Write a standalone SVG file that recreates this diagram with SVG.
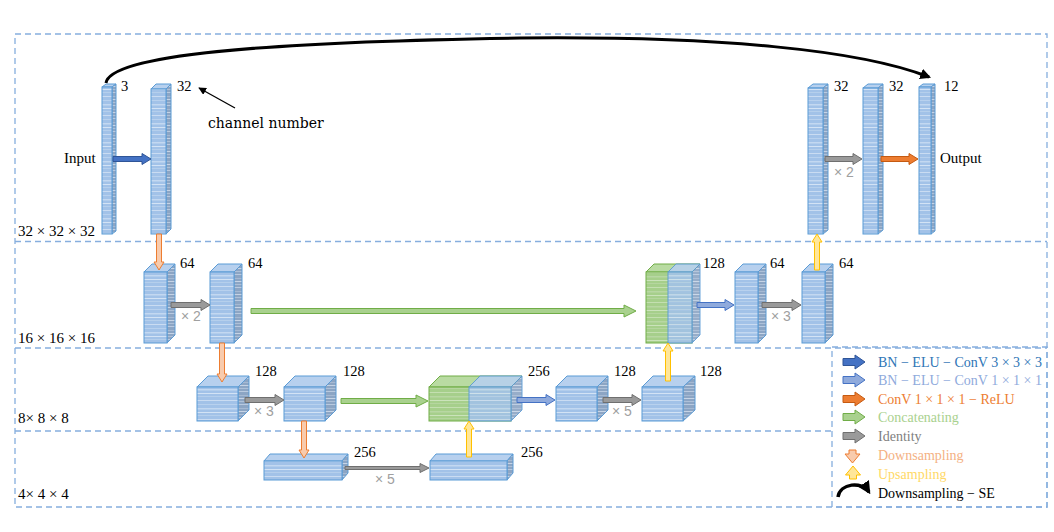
<svg xmlns="http://www.w3.org/2000/svg" width="1054" height="532" viewBox="0 0 1054 532">
<defs>
<pattern id="pf" width="20" height="19" patternUnits="userSpaceOnUse">
<rect width="20" height="19" fill="#a2c2e8"/>
<rect y="1" width="20" height="1" fill="#cadcf2"/>
<rect y="5" width="20" height="1" fill="#b8d1ee"/>
<rect y="9" width="20" height="1.5" fill="#c3d8f1"/>
<rect y="13" width="20" height="1" fill="#d3e3f5"/>
<rect y="16" width="20" height="1" fill="#b5cfec"/>
</pattern>
<pattern id="ps" width="20" height="13" patternUnits="userSpaceOnUse">
<rect width="20" height="13" fill="#8ca5c4"/>
<rect y="1" width="20" height="1" fill="#b9cae0"/>
<rect y="5" width="20" height="1" fill="#a5b9d3"/>
<rect y="8" width="20" height="1" fill="#c6d4e6"/>
<rect y="11" width="20" height="1" fill="#adc0d8"/>
</pattern>
<pattern id="pg" width="20" height="15" patternUnits="userSpaceOnUse">
<rect width="20" height="15" fill="#a6cf8b"/>
<rect y="2" width="20" height="1" fill="#c4dfb1"/>
<rect y="6" width="20" height="1.5" fill="#b8d7a3"/>
<rect y="10" width="20" height="1" fill="#cbe3bb"/>
<rect y="13" width="20" height="1" fill="#b5d69f"/>
</pattern>
<marker id="ah" viewBox="0 0 10 10" refX="9" refY="5" markerWidth="6" markerHeight="6" orient="auto-start-reverse">
<path d="M0,0 L10,5 L0,10 z" fill="#000"/>
</marker>
<marker id="ahb" viewBox="0 0 10 10" refX="8" refY="5" markerWidth="3.6" markerHeight="3.6" orient="auto">
<path d="M0,0 L10,5 L0,10 z" fill="#000"/>
</marker>
</defs>
<style>
.dash{fill:none;stroke:#86aede;stroke-width:1.3;stroke-dasharray:6,4}
.f{fill:url(#pf);stroke:#5b9bd5;stroke-width:1}
.t{fill:#b7d0ee;stroke:#5b9bd5;stroke-width:1}
.s{fill:url(#ps);stroke:#5b9bd5;stroke-width:1}
.gf{fill:url(#pg);stroke:#70ad47;stroke-width:1}
.gt{fill:#b9dba2;stroke:#70ad47;stroke-width:1}
.ov{opacity:.9}
.num{font-family:"Liberation Serif","DejaVu Serif",serif;font-size:14.5px;fill:#000}
.lbl{font-family:"Liberation Serif","DejaVu Serif",serif;font-size:15px;fill:#000}
.rep{font-family:"Liberation Sans",Arial,sans-serif;font-size:14px;fill:#a0a0a0}
.leg{font-family:"Liberation Serif","DejaVu Serif",serif;font-size:14px}
.a-db{fill:#4472c4;stroke:#2f5597;stroke-width:1}
.a-lb{fill:#8faadc;stroke:#4472c4;stroke-width:1}
.a-or{fill:#ed7d31;stroke:#c55a11;stroke-width:1}
.a-gr{fill:#a9d18e;stroke:#70ad47;stroke-width:1}
.a-gy{fill:#9a9a9a;stroke:#6f6f6f;stroke-width:1}
.a-dn{fill:#f8cbad;stroke:#ed7d31;stroke-width:1}
.a-up{fill:#ffe699;stroke:#ffc000;stroke-width:1}
</style>
<rect width="1054" height="532" fill="#fff"/>

<g id="frame">
<rect class="dash" x="15" y="34" width="1032" height="473"/>
<line class="dash" x1="15" y1="241.5" x2="1047" y2="241.5"/>
<line class="dash" x1="15" y1="348" x2="1047" y2="348"/>
<line class="dash" x1="15" y1="431" x2="832" y2="431"/>
<text class="lbl" x="18" y="236">32 × 32 × 32</text>
<text class="lbl" x="18" y="343">16 × 16 × 16</text>
<text class="lbl" x="18" y="423">8× 8 × 8</text>
<text class="lbl" x="18" y="499">4× 4 × 4</text>
</g>

<g id="nodeA">
<polygon class="t" points="102,87 106,84 116,84 112,87"/>
<polygon class="s" points="112,87 116,84 116,231 112,234"/>
<rect class="f" x="102" y="87" width="10" height="147"/>
<text class="num" x="121" y="91">3</text>
<text class="lbl" x="64" y="163">Input</text>
</g>
<g id="nodeB">
<polygon class="t" points="151,89 156,84 171,84 166,89"/>
<polygon class="s" points="166,89 171,84 171,229 166,234"/>
<rect class="f" x="151" y="89" width="15" height="145"/>
<text class="num" x="177" y="91">32</text>
</g>
<g id="nodeC">
<polygon class="t" points="808,88 813,84 828,84 823,88"/>
<polygon class="s" points="823,88 828,84 828,230 823,234"/>
<rect class="f" x="808" y="88" width="15" height="146"/>
<text class="num" x="834" y="91">32</text>
</g>
<g id="nodeD">
<polygon class="t" points="863,88 868,84 883,84 878,88"/>
<polygon class="s" points="878,88 883,84 883,230 878,234"/>
<rect class="f" x="863" y="88" width="15" height="146"/>
<text class="num" x="889" y="91">32</text>
</g>
<g id="nodeE">
<polygon class="t" points="919,87 923,84 935,84 931,87"/>
<polygon class="s" points="931,87 935,84 935,231 931,234"/>
<rect class="f" x="919" y="87" width="12" height="147"/>
<text class="num" x="944" y="91">12</text>
<text class="lbl" x="940" y="163">Output</text>
</g>

<g id="nodeF">
<polygon class="t" points="144,272 152,264 175,264 167,272"/>
<polygon class="s" points="167,272 175,264 175,335 167,343"/>
<rect class="f" x="144" y="272" width="23" height="71"/>
<text class="num" x="180" y="268">64</text>
</g>
<g id="nodeG">
<polygon class="t" points="210,272 218,264 242,264 234,272"/>
<polygon class="s" points="234,272 242,264 242,335 234,343"/>
<rect class="f" x="210" y="272" width="24" height="71"/>
<text class="num" x="248" y="268">64</text>
</g>
<g id="nodeConcat1">
<polygon class="gt" points="646,272 654,264 700,264 692,272"/>
<rect class="gf" x="646" y="272" width="46" height="71"/>
<g class="ov">
<polygon class="t" points="668,272 676,264 700,264 692,272"/>
<polygon class="s" points="692,272 700,264 700,335 692,343"/>
<rect class="f" x="668" y="272" width="24" height="71"/>
</g>
<text class="num" x="703" y="268">128</text>
</g>
<g id="nodeH">
<polygon class="t" points="735,272 743,264 766,264 758,272"/>
<polygon class="s" points="758,272 766,264 766,335 758,343"/>
<rect class="f" x="735" y="272" width="23" height="71"/>
<text class="num" x="770" y="268">64</text>
</g>
<g id="nodeI">
<polygon class="t" points="802,272 810,264 833,264 825,272"/>
<polygon class="s" points="825,272 833,264 833,335 825,343"/>
<rect class="f" x="802" y="272" width="23" height="71"/>
<text class="num" x="839" y="268">64</text>
</g>

<g id="nodeJ">
<polygon class="t" points="197,387 208,376 249,376 238,387"/>
<polygon class="s" points="238,387 249,376 249,410 238,421"/>
<rect class="f" x="197" y="387" width="41" height="34"/>
<text class="num" x="255" y="376">128</text>
</g>
<g id="nodeK">
<polygon class="t" points="284,387 295,376 336,376 325,387"/>
<polygon class="s" points="325,387 336,376 336,410 325,421"/>
<rect class="f" x="284" y="387" width="41" height="34"/>
<text class="num" x="343" y="376">128</text>
</g>
<g id="nodeConcat2">
<polygon class="gt" points="429,387 440,376 522,376 511,387"/>
<rect class="gf" x="429" y="387" width="82" height="34"/>
<g class="ov">
<polygon class="t" points="469,387 480,376 522,376 511,387"/>
<polygon class="s" points="511,387 522,376 522,410 511,421"/>
<rect class="f" x="469" y="387" width="42" height="34"/>
</g>
<text class="num" x="528" y="376">256</text>
</g>
<g id="nodeL">
<polygon class="t" points="556,387 567,376 608,376 597,387"/>
<polygon class="s" points="597,387 608,376 608,410 597,421"/>
<rect class="f" x="556" y="387" width="41" height="34"/>
<text class="num" x="614" y="376">128</text>
</g>
<g id="nodeM">
<polygon class="t" points="642,387 653,376 695,376 683,387"/>
<polygon class="s" points="683,387 695,376 695,410 683,421"/>
<rect class="f" x="642" y="387" width="41" height="34"/>
<text class="num" x="700" y="376">128</text>
</g>

<g id="nodeN">
<polygon class="t" points="264,461 270,454 348,454 342,461"/>
<polygon class="s" points="342,461 348,454 348,473 342,480"/>
<rect class="f" x="264" y="461" width="78" height="19"/>
<text class="num" x="354" y="457">256</text>
</g>
<g id="nodeO">
<polygon class="t" points="430,461 436,454 513,454 507,461"/>
<polygon class="s" points="507,461 513,454 513,473 507,480"/>
<rect class="f" x="430" y="461" width="77" height="19"/>
<text class="num" x="521" y="457">256</text>
</g>

<g id="connectors">
<path d="M106,83 C110,55 260,42 520,38 C720,36 860,50 929,77" fill="none" stroke="#000" stroke-width="3" marker-end="url(#ahb)"/>
<line x1="235" y1="108" x2="199" y2="88" stroke="#000" stroke-width="1.3" marker-end="url(#ah)"/>
<polygon class="a-db" points="113,156.5 142,156.5 142,153.5 151,159 142,164.5 142,161.5 113,161.5"/>
<polygon class="a-gy" points="825,156.5 853,156.5 853,153.5 862,159 853,164.5 853,161.5 825,161.5"/>
<polygon class="a-or" points="881,156.5 909,156.5 909,153.5 918,159 909,164.5 909,161.5 881,161.5"/>
<polygon class="a-dn" points="156.5,234 161.5,234 161.5,262 164,262 159,270 154,262 156.5,262"/>
<polygon class="a-gy" points="171,302.5 201,302.5 201,299.5 210,305 201,310.5 201,307.5 171,307.5"/>
<polygon class="a-gr" points="251,308.5 624,308.5 624,305 636,311 624,317 624,313.5 251,313.5"/>
<polygon class="a-lb" points="697,302.5 725,302.5 725,299.5 734,305 725,310.5 725,307.5 697,307.5"/>
<polygon class="a-gy" points="762,302.5 792,302.5 792,299.5 801,305 792,310.5 792,307.5 762,307.5"/>
<polygon class="a-up" points="814.5,270 819.5,270 819.5,242 822,242 817,234 812,242 814.5,242"/>
<polygon class="a-dn" points="219.5,343 224.5,343 224.5,374 227,374 222,382 217,374 219.5,374"/>
<polygon class="a-gy" points="245,397.5 275,397.5 275,394.5 284,400 275,405.5 275,402.5 245,402.5"/>
<polygon class="a-gr" points="341,398.5 416,398.5 416,395 428,401 416,407 416,403.5 341,403.5"/>
<polygon class="a-lb" points="517,397.5 546,397.5 546,394.5 555,400 546,405.5 546,402.5 517,402.5"/>
<polygon class="a-gy" points="603,397.5 632,397.5 632,394.5 641,400 632,405.5 632,402.5 603,402.5"/>
<polygon class="a-up" points="665.5,381 670.5,381 670.5,351 673,351 668,343 663,351 665.5,351"/>
<polygon class="a-dn" points="301.5,421 306.5,421 306.5,450 309,450 304,458 299,450 301.5,450"/>
<polygon class="a-gy" points="345,466.5 420,466.5 420,463.5 429,468 420,472.5 420,469.5 345,469.5"/>
<polygon class="a-up" points="466.5,457 471.5,457 471.5,429 474,429 469,421 464,429 466.5,429"/>
<text class="rep" x="834" y="177">× 2</text>
<text class="rep" x="181" y="321">× 2</text>
<text class="rep" x="771" y="321">× 3</text>
<text class="rep" x="254" y="416">× 3</text>
<text class="rep" x="612" y="416">× 5</text>
<text class="rep" x="375" y="484">× 5</text>
<text class="lbl" x="208" y="128" style="font-family:'DejaVu Serif',serif;font-size:14px">channel number</text>
</g>

<g id="legend">
<rect class="dash" x="832" y="347" width="215" height="160"/>
<polygon class="a-db" points="843,358.5 855,358.5 855,355 865,362 855,369 855,365.5 843,365.5"/>
<polygon class="a-lb" points="843,376.5 855,376.5 855,373 865,380 855,387 855,383.5 843,383.5"/>
<polygon class="a-or" points="843,395.5 855,395.5 855,392 865,399 855,406 855,402.5 843,402.5"/>
<polygon class="a-gr" points="843,413.5 855,413.5 855,410 865,417 855,424 855,420.5 843,420.5"/>
<polygon class="a-gy" points="843,432.5 855,432.5 855,429 865,436 855,443 855,439.5 843,439.5"/>
<polygon class="a-dn" points="849,450 856,450 856,454 860,454 852.5,463 845,454 849,454"/>
<polygon class="a-up" points="849.5,479 856.5,479 856.5,475 860.5,475 853,466 845.5,475 849.5,475"/>
<path d="M838,497 C840,483 862,481 869,492" fill="none" stroke="#000" stroke-width="3.5" marker-end="url(#ahb)"/>
<text class="leg" x="878" y="367" fill="#2e75b6">BN − ELU − ConV 3 × 3 × 3</text>
<text class="leg" x="878" y="385" fill="#8faadc">BN − ELU − ConV 1 × 1 × 1</text>
<text class="leg" x="878" y="404" fill="#ed7d31">ConV 1 × 1 × 1 − ReLU</text>
<text class="leg" x="878" y="422" fill="#a9d18e">Concatenating</text>
<text class="leg" x="878" y="441" fill="#7f7f7f">Identity</text>
<text class="leg" x="878" y="460" fill="#f4b183">Downsampling</text>
<text class="leg" x="878" y="479" fill="#ffd966">Upsampling</text>
<text class="leg" x="878" y="498" fill="#000">Downsampling − SE</text>
</g>
</svg>
